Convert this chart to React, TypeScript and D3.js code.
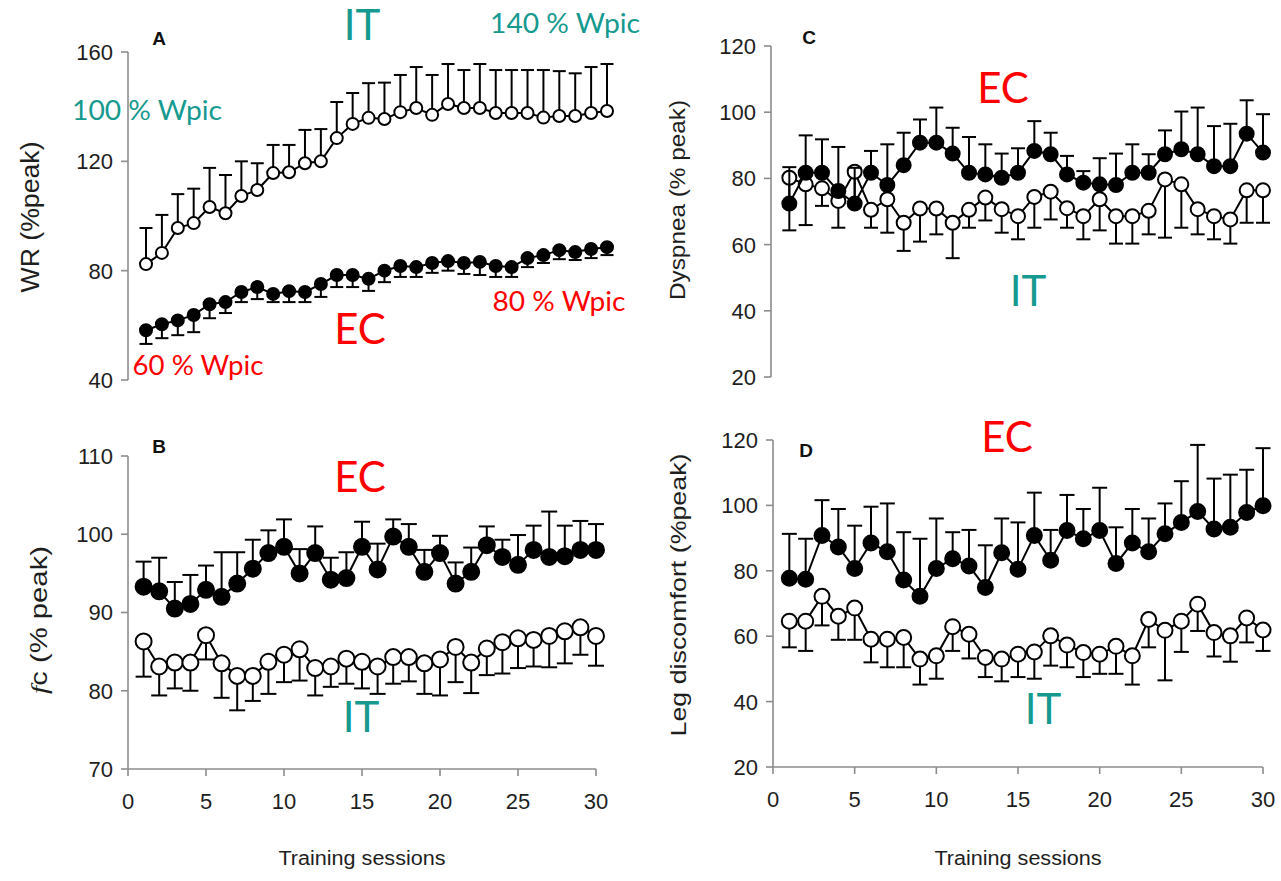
import React from "react";
import * as d3 from "d3";

const sessions = [1,2,3,4,5,6,7,8,9,10,11,12,13,14,15,16,17,18,19,20,21,22,23,24,25,26,27,28,29,30];

// Panel A: WR (%peak)
const A_IT_mean = [82.4,86.5,95.6,97.4,103.3,101,107.3,109.5,115.7,116,119.3,120,128.5,133.7,135.9,135.5,138,139.5,137,141,139.5,139.5,137.7,137.7,137.7,136,136.6,136.6,137.7,138.4];
const A_IT_sd = [13.2,13.9,12.4,12.6,14.3,14,12.7,9.8,10.3,10,12.2,11.8,13.2,11.3,12.7,13.3,13.6,15,14.6,14.6,13.9,16.1,15.7,15.7,15.7,17.4,16.4,15.6,16.8,17.2];
const A_EC_mean = [58.2,60.4,61.8,63.8,67.7,68.5,72.2,74,71.5,72.5,72.2,75.1,78.4,78.4,77,80,81.7,81.3,82.8,83.5,82.8,83.2,81.7,81.3,84.6,85.7,87.5,86.8,87.9,88.6];
const A_EC_sd = [5,5.1,5.4,6.3,5.1,4,3.7,4.4,3,4,3.7,4.7,4.4,4.4,4.4,4.2,4,3.6,3.6,3.5,4,4.8,4,3.6,3.3,2.9,3.3,2.9,3.3,2.9];

// Panel B: fc (% peak)
const B_EC_mean = [93.3,92.7,90.5,91.1,92.9,92.0,93.7,95.6,97.6,98.4,95.0,97.6,94.2,94.4,98.4,95.5,99.7,98.4,95.2,97.6,93.7,95.2,98.6,97.1,96.1,98.0,97.1,97.2,98.0,98.0];
const B_EC_sd = [3.2,4.3,3.4,3.7,3.1,5.7,4.0,3.7,2.9,3.5,3.1,3.4,2.8,3.3,3.2,3.3,2.2,2.9,2.8,2.2,2.7,3.1,2.4,2.2,3.8,3.1,5.8,3.9,3.7,3.3];
const B_IT_mean = [86.3,83.1,83.6,83.6,87.1,83.5,81.9,81.9,83.7,84.6,85.3,82.9,83.1,84.1,83.7,83.1,84.3,84.3,83.5,84.0,85.6,83.6,85.4,86.2,86.7,86.5,87.0,87.6,88.1,87.0];
const B_IT_sd = [4.5,3.7,3.3,3.6,3.1,4.4,4.4,3.2,4.1,3.5,4.0,3.5,2.6,3.2,3.4,3.5,3.4,3.1,3.9,4.6,4.5,3.9,3.4,4.0,3.8,3.4,4.0,4.1,3.5,3.8];

// Panel C: Dyspnea (% peak)
const C_EC_mean = [72.4,81.7,81.7,76.2,72.4,81.7,78.0,84.0,90.8,90.8,87.5,81.7,81.2,80.2,81.7,88.3,87.3,81.2,78.7,78.2,78.0,81.7,81.7,87.3,88.8,87.3,83.7,83.7,93.5,87.8];
const C_EC_sd = [11.0,11.3,10.1,13.3,10.8,6.6,12.3,9.8,7.0,10.6,7.8,10.8,9.1,7.3,7.4,9.0,6.5,5.6,3.5,7.9,9.5,8.6,5.6,7.2,11.4,14.1,12.1,12.8,10.1,11.6];
const C_IT_mean = [80.2,78.2,77,73.2,82.0,70.5,73.7,66.6,70.9,70.9,66.6,70.5,74.2,70.7,68.6,74.4,76.0,71.0,68.6,73.7,68.6,68.6,70.2,79.7,78.2,70.7,68.6,67.6,76.4,76.4];
const C_IT_sd = [15.9,12.3,5.3,8.1,9.3,5.4,10.1,8.5,10.0,7.8,10.7,5.4,6.9,7.1,7.0,9.3,8.4,5.9,7.0,9.4,8.3,8.3,7.1,17.6,13.1,7.6,7.0,7.3,9.8,9.8];

// Panel D: Leg discomfort (%peak)
const D_EC_mean = [77.7,77.4,90.8,87.3,80.7,88.5,85.8,77.2,72.2,80.7,83.7,81.5,74.9,85.5,80.5,90.8,83.2,92.3,89.8,92.3,82.2,88.5,85.8,91.3,94.8,98.1,92.8,93.3,97.8,99.9];
const D_EC_sd = [13.6,12.4,10.8,11.6,13.1,11.1,14.8,14.6,17.6,15.3,8.1,11.0,12.9,10.5,14.3,13.1,9.3,10.9,9.1,13.1,11.1,10.4,10.2,9.3,12.6,20.4,15.4,16.1,13.1,17.6];
const D_IT_mean = [64.6,64.6,72.2,66.1,68.6,59.1,59.1,59.6,53.0,54.0,62.9,60.6,53.5,53.0,54.5,55.2,60.1,57.3,55.0,54.5,56.9,54.0,65.1,61.8,64.6,69.8,61.1,60.1,65.6,61.9];
const D_IT_sd = [8.0,9.1,8.9,7.2,9.7,7.1,8.6,9.1,7.8,7.0,7.4,7.4,6.0,6.8,7.0,8.2,9.1,6.8,7.5,6.0,8.4,8.8,8.5,15.3,9.4,8.2,7.3,7.9,7.5,6.4];

const yTicksA = [40, 80, 120, 160];
const yTicksB = [70, 80, 90, 100, 110];
const yTicksCD = [20, 40, 60, 80, 100, 120];
const xTicks = [0, 5, 10, 15, 20, 25, 30];

const TEAL = "#16998f";
const RED = "#ff0000";
const AXIS = "#8c8c8c";
const SANS = "'Liberation Sans', Arial, Helvetica, sans-serif";
const ANNOT = "Lato, 'Noto Sans', sans-serif";

type Series = { mean: number[]; sd: number[]; filled: boolean; dir: 1 | -1 };

type PanelProps = {
  xDomain: [number, number];
  xRange: [number, number];
  yDomain: [number, number];
  yRange: [number, number];
  axisX: number;
  yTicks: number[];
  showX: boolean;
  r: number;
  cap: number;
  series: Series[];
};

function Panel(p: PanelProps) {
  const x = d3.scaleLinear().domain(p.xDomain).range(p.xRange);
  const y = d3.scaleLinear().domain(p.yDomain).range(p.yRange);
  const line = d3.line<number>().x((_, i) => x(sessions[i])).y((d) => y(d));
  const x0 = d3.scaleLinear().domain([0, 30]).range(p.xRange);
  return (
    <g>
      {/* y axis */}
      <line x1={p.axisX} x2={p.axisX} y1={y(p.yDomain[0])} y2={y(p.yDomain[1])} stroke={AXIS} strokeWidth={1.6} />
      {p.yTicks.map((t) => (
        <g key={"yt" + t}>
          <line x1={p.axisX - 7} x2={p.axisX} y1={y(t)} y2={y(t)} stroke={AXIS} strokeWidth={1.6} />
          <text x={p.axisX - 15} y={y(t)} dy="0.36em" textAnchor="end" fontFamily={SANS} fontSize={22} fill="#1e1e1e">{t}</text>
        </g>
      ))}
      {p.showX && (
        <g>
          <line x1={x0(0)} x2={x0(30)} y1={y(p.yDomain[0])} y2={y(p.yDomain[0])} stroke={AXIS} strokeWidth={1.6} />
          {xTicks.map((t) => (
            <g key={"xt" + t}>
              <line x1={x0(t)} x2={x0(t)} y1={y(p.yDomain[0])} y2={y(p.yDomain[0]) + 7} stroke={AXIS} strokeWidth={1.6} />
              <text x={x0(t)} y={y(p.yDomain[0]) + 40} textAnchor="middle" fontFamily={SANS} fontSize={22} fill="#1e1e1e">{t}</text>
            </g>
          ))}
        </g>
      )}
      {p.series.map((s, si) => (
        <g key={"s" + si}>
          {s.mean.map((m, i) => {
            const cx = x(sessions[i]);
            const ye = y(m + s.dir * s.sd[i]);
            return (
              <g key={"e" + i}>
                <line x1={cx} x2={cx} y1={y(m)} y2={ye} stroke="#000" strokeWidth={2} />
                <line x1={cx - p.cap} x2={cx + p.cap} y1={ye} y2={ye} stroke="#000" strokeWidth={2} />
              </g>
            );
          })}
          <path d={line(s.mean) || ""} fill="none" stroke="#000" strokeWidth={2} />
          {s.mean.map((m, i) => (
            <circle key={"c" + i} cx={x(sessions[i])} cy={y(m)} r={p.r} fill={s.filled ? "#000" : "#fff"} stroke="#000" strokeWidth={2} />
          ))}
        </g>
      ))}
    </g>
  );
}

function YTitle({ x, y, len, size, children }: { x: number; y: number; len: number; size: number; children: React.ReactNode }) {
  return (
    <text transform={`translate(${x},${y}) rotate(-90)`} textAnchor="middle" dy="0.35em" fontFamily={SANS} fontSize={size} fill="#1e1e1e" textLength={len} lengthAdjust="spacingAndGlyphs">
      {children}
    </text>
  );
}

function Annot({ x, y, size, color, len, children }: { x: number; y: number; size: number; color: string; len?: number; children: React.ReactNode }) {
  return (
    <text x={x} y={y} textAnchor="middle" fontFamily={ANNOT} fontSize={size} fill={color} textLength={len} lengthAdjust={len ? "spacingAndGlyphs" : undefined}>
      {children}
    </text>
  );
}

export default function App() {
  return (
    <svg width={1281} height={881} style={{ position: "absolute", left: 0, top: 0, background: "#fff" }}>
      <rect width={1281} height={881} fill="#fff" />
      {/* Panel A */}
      <Panel xDomain={[1, 30]} xRange={[146, 607]} yDomain={[40, 160]} yRange={[380, 52]} axisX={128} yTicks={yTicksA} showX={false} r={6} cap={6.5}
        series={[
          { mean: A_IT_mean, sd: A_IT_sd, filled: false, dir: 1 },
          { mean: A_EC_mean, sd: A_EC_sd, filled: true, dir: -1 },
        ]} />
      {/* Panel B */}
      <Panel xDomain={[0, 30]} xRange={[128, 596]} yDomain={[70, 110]} yRange={[769, 456]} axisX={128} yTicks={yTicksB} showX={true} r={8} cap={8}
        series={[
          { mean: B_IT_mean, sd: B_IT_sd, filled: false, dir: -1 },
          { mean: B_EC_mean, sd: B_EC_sd, filled: true, dir: 1 },
        ]} />
      {/* Panel C */}
      <Panel xDomain={[0, 30]} xRange={[773, 1263]} yDomain={[20, 120]} yRange={[377, 46]} axisX={771} yTicks={yTicksCD} showX={false} r={7} cap={7}
        series={[
          { mean: C_IT_mean, sd: C_IT_sd, filled: false, dir: -1 },
          { mean: C_EC_mean, sd: C_EC_sd, filled: true, dir: 1 },
        ]} />
      {/* Panel D */}
      <Panel xDomain={[0, 30]} xRange={[773, 1263]} yDomain={[20, 120]} yRange={[767, 440]} axisX={773} yTicks={yTicksCD} showX={true} r={7.5} cap={7.5}
        series={[
          { mean: D_IT_mean, sd: D_IT_sd, filled: false, dir: -1 },
          { mean: D_EC_mean, sd: D_EC_sd, filled: true, dir: 1 },
        ]} />

      {/* panel letters */}
      <text x={159} y={45} textAnchor="middle" fontFamily={SANS} fontWeight="bold" fontSize={19} fill="#111">A</text>
      <text x={159} y={453} textAnchor="middle" fontFamily={SANS} fontWeight="bold" fontSize={19} fill="#111">B</text>
      <text x={809} y={44} textAnchor="middle" fontFamily={SANS} fontWeight="bold" fontSize={19} fill="#111">C</text>
      <text x={806} y={457} textAnchor="middle" fontFamily={SANS} fontWeight="bold" fontSize={19} fill="#111">D</text>

      {/* axis titles */}
      <YTitle x={30} y={217} len={151} size={25}>WR (%peak)</YTitle>
      <YTitle x={39} y={620} len={148} size={24}>
        <tspan fontStyle="italic" fontFamily="'Liberation Serif', serif">f</tspan>c (% peak)
      </YTitle>
      <YTitle x={677} y={200} len={200} size={22}>Dyspnea (% peak)</YTitle>
      <YTitle x={678} y={595} len={283} size={22}>Leg discomfort (%peak)</YTitle>
      <text x={362} y={865} textAnchor="middle" fontFamily={SANS} fontSize={20} fill="#1e1e1e" textLength={167} lengthAdjust="spacingAndGlyphs">Training sessions</text>
      <text x={1018} y={865} textAnchor="middle" fontFamily={SANS} fontSize={20} fill="#1e1e1e" textLength={167} lengthAdjust="spacingAndGlyphs">Training sessions</text>

      {/* annotations */}
      <Annot x={362} y={40} size={42} color={TEAL}>IT</Annot>
      <Annot x={565} y={33} size={26} color={TEAL} len={150}>140 % Wpic</Annot>
      <Annot x={147} y={120} size={26} color={TEAL} len={150}>100 % Wpic</Annot>
      <Annot x={559} y={311} size={26} color={RED} len={133}>80 % Wpic</Annot>
      <Annot x={198} y={375} size={26} color={RED} len={131}>60 % Wpic</Annot>
      <Annot x={360} y={344} size={42} color={RED}>EC</Annot>
      <Annot x={360} y={492} size={42} color={RED}>EC</Annot>
      <Annot x={361} y={732} size={42} color={TEAL}>IT</Annot>
      <Annot x={1003} y={103} size={42} color={RED}>EC</Annot>
      <Annot x={1028} y={306} size={42} color={TEAL}>IT</Annot>
      <Annot x={1007} y={452} size={42} color={RED}>EC</Annot>
      <Annot x={1043} y={724} size={42} color={TEAL}>IT</Annot>
    </svg>
  );
}
